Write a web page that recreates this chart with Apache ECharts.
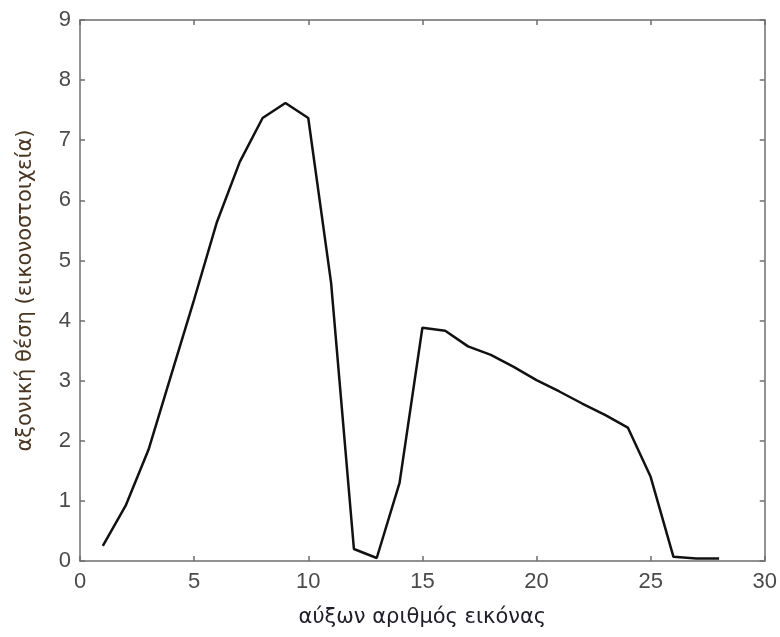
<!DOCTYPE html>
<html><head><meta charset="utf-8">
<script src="https://cdn.jsdelivr.net/npm/echarts@6/dist/echarts.min.js"></script>
<style>html,body{margin:0;padding:0;background:#fff}#c{width:780px;height:637px}</style>
</head><body><div id="c"></div>
<script>
const xValues = [1,2,3,4,5,6,7,8,9,10,11,12,13,14,15,16,17,18,19,20,21,22,23,24,25,26,27,28];
const yValues = [0.25,0.92,1.85,3.1,4.35,5.64,6.64,7.37,7.62,7.37,4.63,0.2,0.05,1.3,3.88,3.83,3.57,3.43,3.23,3.01,2.82,2.62,2.43,2.22,1.4,0.07,0.04,0.04];
const xTicks = [0,5,10,15,20,25,30];
const yTicks = [0,1,2,3,4,5,6,7,8,9];
const xLabel = 'αύξων αριθμός εικόνας';
const yLabel = 'αξονική θέση (εικονοστοιχεία)';

const chart = echarts.init(document.getElementById('c'), null, {renderer:'canvas'});
const axisCol = '#6e6e6e';
const font = 'Liberation Sans, Arial, sans-serif';
const nameFont = 'DejaVu Sans, sans-serif';
const baseX = {
  type:'value', min:xTicks[0], max:xTicks[xTicks.length-1], interval:5,
  axisLine:{show:true, onZero:false, lineStyle:{color:axisCol, width:1.5}},
  axisTick:{show:true, inside:true, length:5, lineStyle:{color:axisCol, width:1.5}},
  splitLine:{show:false}
};
const baseY = {
  type:'value', min:yTicks[0], max:yTicks[yTicks.length-1], interval:1,
  axisLine:{show:true, onZero:false, lineStyle:{color:axisCol, width:1.5}},
  axisTick:{show:true, inside:true, length:5, lineStyle:{color:axisCol, width:1.5}},
  splitLine:{show:false}
};
chart.setOption({
  animation:false,
  backgroundColor:'#fff',
  grid:{left:80, right:13, top:20, bottom:76, containLabel:false},
  xAxis:[
    Object.assign({}, baseX, {position:'bottom',
      axisLabel:{show:true, color:'#4a4a4a', fontSize:22, fontFamily:font, margin:10},
      name:xLabel, nameLocation:'middle', nameGap:46,
      nameTextStyle:{color:'#1e1e2a', fontSize:21, fontFamily:nameFont}}),
    Object.assign({}, baseX, {position:'top', axisLabel:{show:false}})
  ],
  yAxis:[
    Object.assign({}, baseY, {position:'left',
      axisLabel:{show:true, color:'#4a4a4a', fontSize:22, fontFamily:font, margin:9},
      name:yLabel, nameLocation:'middle', nameGap:44,
      nameTextStyle:{color:'#4a3520', fontSize:21, fontFamily:nameFont}}),
    Object.assign({}, baseY, {position:'right', axisLabel:{show:false}})
  ],
  series:[{
    type:'line', xAxisIndex:0, yAxisIndex:0,
    data:xValues.map((x,i)=>[x,yValues[i]]),
    showSymbol:false, symbol:'none',
    lineStyle:{color:'#111', width:2.5},
    z:5
  }]
});
</script></body></html>
